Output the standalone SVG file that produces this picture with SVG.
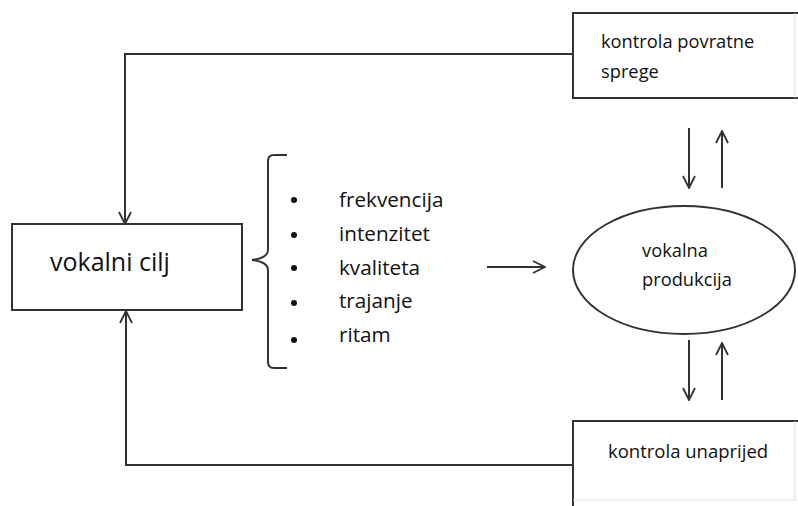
<svg xmlns="http://www.w3.org/2000/svg" width="798" height="506" viewBox="0 0 798 506">
<defs>
<style>
.box{fill:#fff;stroke:#333;stroke-width:2}
.faint{fill:none;stroke:#ddd;stroke-width:1}
.ln{fill:none;stroke:#333;stroke-width:2}
.t{font-family:"Open Sans","Liberation Sans",sans-serif;fill:#111}
</style>
<marker id="ah" viewBox="0 0 14 14" refX="13" refY="7" markerWidth="14" markerHeight="14" markerUnits="userSpaceOnUse" orient="auto">
<path d="M1,1 L13,7 L1,13" fill="none" stroke="#333" stroke-width="1.8"/>
</marker>
</defs>
<rect width="798" height="506" fill="#fff"/>
<g id="connectors">
<path class="ln" d="M573,54 H125 V224" marker-end="url(#ah)"/>
<path class="ln" d="M573,465 H126 V311" marker-end="url(#ah)"/>
<path class="ln" d="M487,267 H545" marker-end="url(#ah)"/>
<path class="ln" d="M689,128 V188" marker-end="url(#ah)"/>
<path class="ln" d="M722,188 V131" marker-end="url(#ah)"/>
<path class="ln" d="M689,340 V400" marker-end="url(#ah)"/>
<path class="ln" d="M722,400 V343" marker-end="url(#ah)"/>
</g>
<g id="kontrola-povratne">
<path class="box" d="M798,13 H573 V98 H798"/>
<line class="faint" x1="795" y1="13" x2="795" y2="98"/>
<text class="t" x="601" y="48" font-size="18.3">kontrola povratne</text>
<text class="t" x="601" y="78" font-size="18.3">sprege</text>
</g>
<g id="vokalni-cilj">
<rect class="box" x="12" y="224" width="230" height="86"/>
<text class="t" x="50" y="271" font-size="25">vokalni cilj</text>
</g>
<g id="parametri">
<path class="ln" d="M287,155 H274 Q268,155 268,161 V250 Q268,258 252,260 Q268,262 268,270 V362 Q268,368 274,368 H287"/>
<g fill="#111">
<circle cx="294" cy="200" r="3"/>
<circle cx="294" cy="235" r="3"/>
<circle cx="294" cy="268" r="3"/>
<circle cx="294" cy="303" r="3"/>
<circle cx="294" cy="340" r="3"/>
</g>
<text class="t" x="339" y="207" font-size="20.7">frekvencija</text>
<text class="t" x="339" y="241" font-size="20.7">intenzitet</text>
<text class="t" x="339" y="275" font-size="20.7">kvaliteta</text>
<text class="t" x="339" y="308" font-size="20.7">trajanje</text>
<text class="t" x="339" y="342" font-size="20.7">ritam</text>
</g>
<g id="vokalna-produkcija">
<ellipse class="box" cx="684" cy="270" rx="111" ry="64"/>
<text class="t" x="642" y="257" font-size="18.3">vokalna</text>
<text class="t" x="642" y="286" font-size="18.3">produkcija</text>
</g>
<g id="kontrola-unaprijed">
<path class="box" d="M798,421 H573 V506"/>
<line class="faint" x1="795" y1="421" x2="795" y2="500"/>
<line class="faint" x1="573" y1="500" x2="795" y2="500"/>
<text class="t" x="608" y="458" font-size="18.5">kontrola unaprijed</text>
</g>
</svg>
